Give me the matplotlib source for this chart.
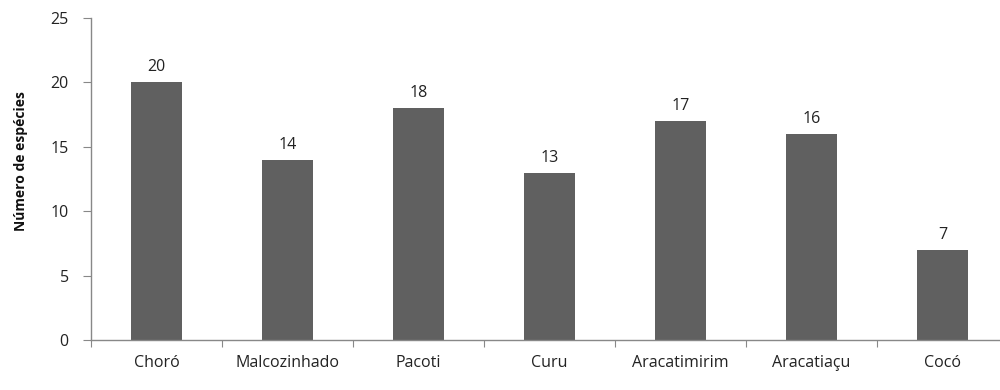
import matplotlib
matplotlib.use("Agg")
import matplotlib.pyplot as plt
import numpy as np

rios = ["Choró", "Malcozinhado", "Pacoti", "Curu", "Aracatimirim", "Aracatiaçu", "Cocó"]
especies = [20, 14, 18, 13, 17, 16, 7]
y_ticks = [0, 5, 10, 15, 20, 25]

plt.rcParams["font.family"] = ["Open Sans", "DejaVu Sans"]

fig = plt.figure(figsize=(10, 3.9), dpi=100)
ax = fig.add_axes([0.091, 0.128, 0.917, 0.826])

x = np.arange(len(rios))
ax.bar(x, especies, width=0.39, color="#606060", zorder=2)

for xi, v in zip(x, especies):
    ax.annotate(str(v), (xi, v), xytext=(0, 5), textcoords="offset points",
                ha="center", va="bottom", fontsize=11.5, color="#222222")

ax.set_xlim(-0.5, len(rios) - 0.5)
ax.set_ylim(0, 25)
ax.set_yticks(y_ticks)
ax.set_yticklabels([str(t) for t in y_ticks], fontsize=11.5, color="#222222")

# category labels centred under bars, ticks at category boundaries
ax.set_xticks(np.arange(len(rios) + 1) - 0.5)
ax.set_xticklabels([])
ax.set_xticks(x, minor=True)
ax.set_xticklabels(rios, minor=True, fontsize=11.5, color="#222222")
ax.tick_params(axis="x", which="minor", length=0, pad=11)
ax.tick_params(axis="x", which="major", length=5, direction="out", color="#888888")
ax.tick_params(axis="y", length=6, direction="out", color="#888888", pad=10)

for side in ["top", "right"]:
    ax.spines[side].set_visible(False)
for side in ["left", "bottom"]:
    ax.spines[side].set_color("#888888")
    ax.spines[side].set_linewidth(1.0)

ax.set_ylabel("Número de espécies", fontsize=10, fontweight="bold", color="#111111")
ax.yaxis.set_label_coords(-0.069, 0.555)

fig.savefig("out.png", dpi=100)
